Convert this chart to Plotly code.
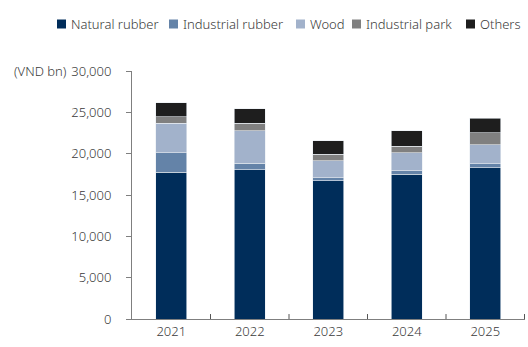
import plotly.graph_objects as go

years = ["2021", "2022", "2023", "2024", "2025"]
natural_rubber = [17750, 18070, 16710, 17510, 18310]
industrial_rubber = [2350, 760, 360, 400, 450]
wood = [3600, 3970, 2090, 2210, 2320]
industrial_park = [750, 850, 760, 800, 1450]
others = [1700, 1770, 1650, 1850, 1770]

series = [
    ("Natural rubber", natural_rubber, "#002D5A"),
    ("Industrial rubber", industrial_rubber, "#6483A8"),
    ("Wood", wood, "#A2B2CB"),
    ("Industrial park", industrial_park, "#808080"),
    ("Others", others, "#1E1E1E"),
]

W, H = 528, 347
L, R, T, B = 132, 3, 71, 28
PW, PH = W - L - R, H - T - B


def px(x):
    return (x - L) / PW


def py(y):
    return (H - B - y) / PH


fig = go.Figure()
for name, vals, col in series:
    fig.add_trace(go.Bar(
        name=name, x=years, y=vals,
        marker=dict(color=col, line=dict(color="#E8ECF2", width=0.6)),
        width=0.4, showlegend=False,
    ))

font = "Noto Sans, Open Sans, sans-serif"
txt = "#3a3a3a"
fig.update_layout(
    barmode="stack",
    width=W, height=H,
    margin=dict(l=L, r=R, t=T, b=B, autoexpand=False),
    plot_bgcolor="white", paper_bgcolor="white",
    font=dict(family=font, size=13, color=txt, weight=300),
    showlegend=False,
    xaxis=dict(showline=True, linecolor="#7f7f7f", linewidth=1,
               ticks="", showgrid=False, automargin=False,
               tickfont=dict(size=13, color=txt, weight=300)),
    yaxis=dict(range=[0, 30000], dtick=5000, tickformat=",", showgrid=False,
               showline=True, linecolor="#7f7f7f", linewidth=1, automargin=False,
               ticks="outside", ticklen=5, tickcolor="#7f7f7f",
               ticklabelstandoff=12, tickfont=dict(size=13, color=txt, weight=300)),
)
fig.add_annotation(text="(VND bn)", xref="paper", yref="y", x=px(12), y=30000,
                   xanchor="left", yanchor="middle", showarrow=False,
                   font=dict(family=font, size=13, color=txt, weight=300))
for i in range(1, 6):
    fig.add_shape(type="line", xref="x", yref="paper", x0=i - 0.5, x1=i - 0.5,
                  y0=0, y1=0.02, line=dict(color="#555555", width=1))

# custom legend (compact spacing as in reference)
legend_sq_x = [57, 169, 296, 352, 466]
yc = 24
for (name, _, col), sx in zip(series, legend_sq_x):
    fig.add_shape(type="rect", xref="paper", yref="paper",
                  x0=px(sx), x1=px(sx + 9), y0=py(yc - 4.5), y1=py(yc + 4.5),
                  fillcolor=col, line=dict(width=0))
    fig.add_annotation(text=name, xref="paper", yref="paper", x=px(sx + 12),
                       y=py(yc), xanchor="left", yanchor="middle", showarrow=False,
                       font=dict(family=font, size=13, color=txt, weight=300))

fig.write_html("out.html", config={"displayModeBar": False},
               post_script="document.body.style.margin='0';")
